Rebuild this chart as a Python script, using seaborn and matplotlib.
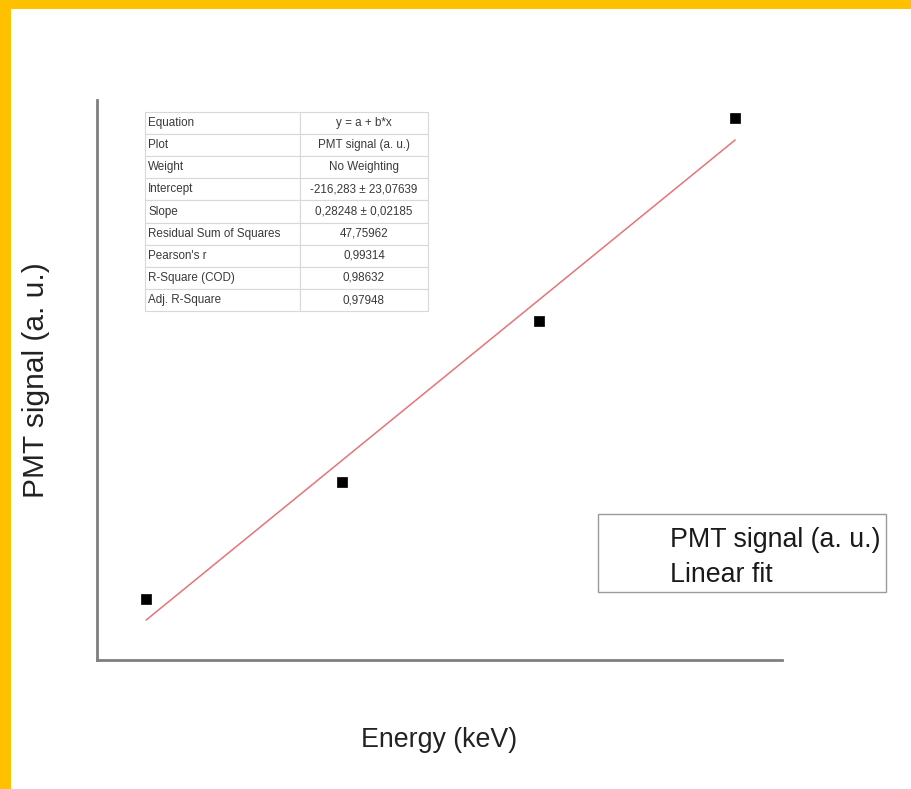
import matplotlib
matplotlib.use("Agg")
import matplotlib.pyplot as plt
from matplotlib.patches import Rectangle
import numpy as np
import pandas as pd
import seaborn as sns

# Measured PMT response vs deposited energy
energy_kev = [900, 1000, 1100, 1200]
pmt_signal = [41.7, 62.4, 90.8, 126.6]

# Linear fit result y = a + b*x
intercept = -216.283
slope = 0.28248

fit_rows = ["Equation", "Plot", "Weight", "Intercept", "Slope",
            "Residual Sum of Squares", "Pearson's r", "R-Square (COD)", "Adj. R-Square"]
fit_values = ["y = a + b*x", "PMT signal (a. u.)", "No Weighting",
              "-216,283 ± 23,07639", "0,28248 ± 0,02185", "47,75962",
              "0,99314", "0,98632", "0,97948"]

sns.set_theme(style="white")
plt.rcParams["font.family"] = ["Liberation Sans", "DejaVu Sans"]

fig = plt.figure(figsize=(9.11, 7.89), dpi=100)
ax = fig.add_axes([0.1065, 0.1635, 0.752, 0.7098])

df = pd.DataFrame({"energy": energy_kev, "signal": pmt_signal})
fit_x = np.array([energy_kev[0], energy_kev[-1]])
fit_df = pd.DataFrame({"energy": fit_x, "signal": intercept + slope * fit_x})

sns.lineplot(data=fit_df, x="energy", y="signal", ax=ax, color="#e8737a",
             linewidth=1.1, label="Linear fit", zorder=2)
sns.scatterplot(data=df, x="energy", y="signal", ax=ax, marker="s", s=55,
                color="black", edgecolor="black", linewidth=0.5,
                label="PMT signal (a. u.)", zorder=3)

ax.set_xlim(875.0, 1223.9)
ax.set_ylim(30.9, 129.75)
ax.set_xticks([])
ax.set_yticks([])
for side in ("top", "right"):
    ax.spines[side].set_visible(False)
for side in ("left", "bottom"):
    ax.spines[side].set_color("#7f7f7f")
    ax.spines[side].set_linewidth(2.0)

ax.set_xlabel("Energy (keV)", fontsize=19.3, color="#222222", labelpad=48)
ax.set_ylabel("PMT signal (a. u.)", fontsize=21.5, color="#222222", labelpad=34)

# Legend box drawn separately; entries keep a blank handle area
ax.add_patch(Rectangle((598 / 911, 1 - 592 / 789), 288 / 911, 78 / 789,
                       transform=fig.transFigure, facecolor="white",
                       edgecolor="#9a9a9a", linewidth=1.0, zorder=4,
                       clip_on=False))
handles, labels = ax.get_legend_handles_labels()
order = [labels.index("PMT signal (a. u.)"), labels.index("Linear fit")]
leg = ax.legend([handles[i] for i in order], [labels[i] for i in order],
                loc="upper left", bbox_to_anchor=(598 / 911, 1 - 527 / 789),
                bbox_transform=fig.transFigure, fontsize=19.3, frameon=False,
                handlelength=2.2, handletextpad=0.49, borderpad=0,
                labelspacing=0.35, borderaxespad=0)
leg.set_zorder(6)
for h in leg.legend_handles:
    h.set_visible(False)
for t in leg.get_texts():
    t.set_color("#1a1a1a")

# Fit statistics table
tab = ax.table(cellText=[[r, v] for r, v in zip(fit_rows, fit_values)],
               cellLoc="left", colWidths=[0.548, 0.452],
               bbox=[0.070, 0.623, 0.413, 0.3556])
tab.auto_set_font_size(False)
tab.set_fontsize(8.4)
for (r, c), cell in tab.get_celld().items():
    cell.set_edgecolor("#d8d8d8")
    cell.set_linewidth(0.8)
    cell.get_text().set_color("#3a3a3a")
    if c == 1:
        cell.get_text().set_ha("center")
        cell._loc = "center"
    else:
        cell.PAD = 0.02

# Frame strips along the top and left edges
fig.patches.append(Rectangle((0, 1 - 9 / 789), 1, 9 / 789, transform=fig.transFigure,
                             facecolor="#ffc000", edgecolor="none", zorder=10))
fig.patches.append(Rectangle((0, 0), 11 / 911, 1, transform=fig.transFigure,
                             facecolor="#ffc000", edgecolor="none", zorder=10))

fig.savefig("out.png", dpi=100, facecolor="white")
